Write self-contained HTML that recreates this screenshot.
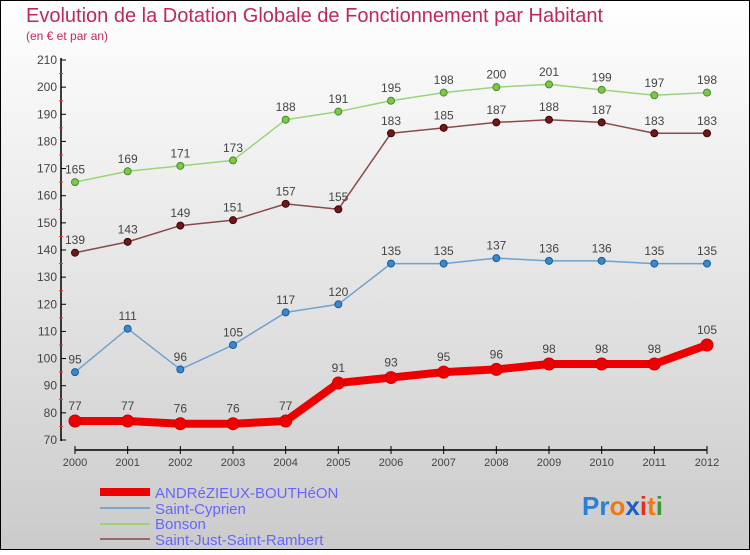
<!DOCTYPE html>
<html><head><meta charset="utf-8"><style>
body{margin:0;width:750px;height:550px;overflow:hidden;font-family:"Liberation Sans",sans-serif}
</style></head><body>
<svg id="c" width="750" height="550" xmlns="http://www.w3.org/2000/svg" font-family="Liberation Sans, sans-serif">
<defs><linearGradient id="bg" x1="0" y1="0" x2="0" y2="1"><stop offset="0" stop-color="#ffffff"/><stop offset="1" stop-color="#cbcbcb"/></linearGradient></defs>
<rect x="0.5" y="0.5" width="749" height="549" fill="url(#bg)" stroke="#000"/>
<text x="26" y="22" font-size="20" fill="#c0285a">Evolution de la Dotation Globale de Fonctionnement par Habitant</text>
<text x="26" y="40" font-size="12" fill="#c0285a">(en € et par an)</text>
<g id="axes"></g><g id="series"></g>
<g>
<line x1="100" y1="492" x2="150" y2="492" stroke="#e00" stroke-width="8"/>
<text x="155" y="498" font-size="15" fill="#66f">ANDRéZIEUX-BOUTHéON</text>
<line x1="100" y1="508" x2="150" y2="508" stroke="#7aa7cf" stroke-width="2"/>
<text x="155" y="514" font-size="15" fill="#66f">Saint-Cyprien</text>
<line x1="100" y1="524" x2="150" y2="524" stroke="#9bd47a" stroke-width="2"/>
<text x="155" y="529" font-size="15" fill="#66f">Bonson</text>
<line x1="100" y1="539" x2="150" y2="539" stroke="#9a6a6a" stroke-width="2"/>
<text x="155" y="545" font-size="15" fill="#66f">Saint-Just-Saint-Rambert</text>
</g>
<text x="582" y="515" font-size="26" font-weight="bold"><tspan fill="#2a7fd8">Pr</tspan><tspan fill="#f07a10">o</tspan><tspan fill="#1a5fc8">x</tspan><tspan fill="#e03020">i</tspan><tspan fill="#f07a10">t</tspan><tspan fill="#3a9a30">i</tspan></text>
</svg>
<script>
const years=[2000,2001,2002,2003,2004,2005,2006,2007,2008,2009,2010,2011,2012];
const yTicks=[70,80,90,100,110,120,130,140,150,160,170,180,190,200,210];
const andrezieux=[77,77,76,76,77,91,93,95,96,98,98,98,105];
const saintCyprien=[95,111,96,105,117,120,135,135,137,136,136,135,135];
const bonson=[165,169,171,173,188,191,195,198,200,201,199,197,198];
const saintJust=[139,143,149,151,157,155,183,185,187,188,187,183,183];
const NS="http://www.w3.org/2000/svg";
const xs=i=>75+i*(707-75)/12;
const ys=v=>440-(v-70)*380/140;
function mk(t,a,p){const e=document.createElementNS(NS,t);for(const k in a)e.setAttribute(k,a[k]);p.appendChild(e);return e;}
const ax=document.getElementById('axes');
let l=mk('line',{x1:61,y1:58,x2:61,y2:441,stroke:'#000','stroke-width':1.5},ax);


l=mk('line',{x1:75,y1:450,x2:707,y2:450,stroke:'#000','stroke-width':1.5},ax);


yTicks.forEach(v=>{
  mk('line',{x1:61,y1:ys(v),x2:66,y2:ys(v),stroke:'#000'},ax);
  if(v<210) mk('line',{x1:59,y1:ys(v+5),x2:63,y2:ys(v+5),stroke:'#e33'},ax);
  const t=mk('text',{x:57,y:ys(v)+4,'font-size':12,fill:'#444','text-anchor':'end'},ax);
  t.textContent=v;
  
  
});
years.forEach((y,i)=>{
  mk('line',{x1:xs(i),y1:446,x2:xs(i),y2:454,stroke:'#000'},ax);
  const t=mk('text',{x:xs(i),y:466,'font-size':11,fill:'#444','text-anchor':'middle'},ax);
  t.textContent=y;
  
  
});
const sg=document.getElementById('series');
function series(data,name,color,w,r,dot,dotStroke){
  const g=mk('g',{},sg);
  
  
  mk('polyline',{points:data.map((v,i)=>xs(i)+','+ys(v)).join(' '),fill:'none',stroke:color,'stroke-width':w,'stroke-linejoin':'round'},g);
  data.forEach((v,i)=>{
    const c=mk('circle',{cx:xs(i),cy:ys(v),r:r,fill:dot,stroke:dotStroke,'stroke-width':1},g);
    
    
    const t=mk('text',{x:xs(i),y:ys(v)-r-5,'font-size':12,fill:'#444','text-anchor':'middle'},g);
    t.textContent=v;
    
    
  });
}
series(bonson,'series-bonson','#9bd47a',1.5,3.5,'#7cc84a','#4a8a2a');
series(saintJust,'series-saint-just','#8a4a4a',1.5,3.5,'#6a1a1a','#400');
series(saintCyprien,'series-saint-cyprien','#6fa2d0',1.5,3.5,'#3a88cc','#1a5a9a');
series(andrezieux,'series-andrezieux','#e00',8,6,'#e00','#c00');
</script>
</body></html>
